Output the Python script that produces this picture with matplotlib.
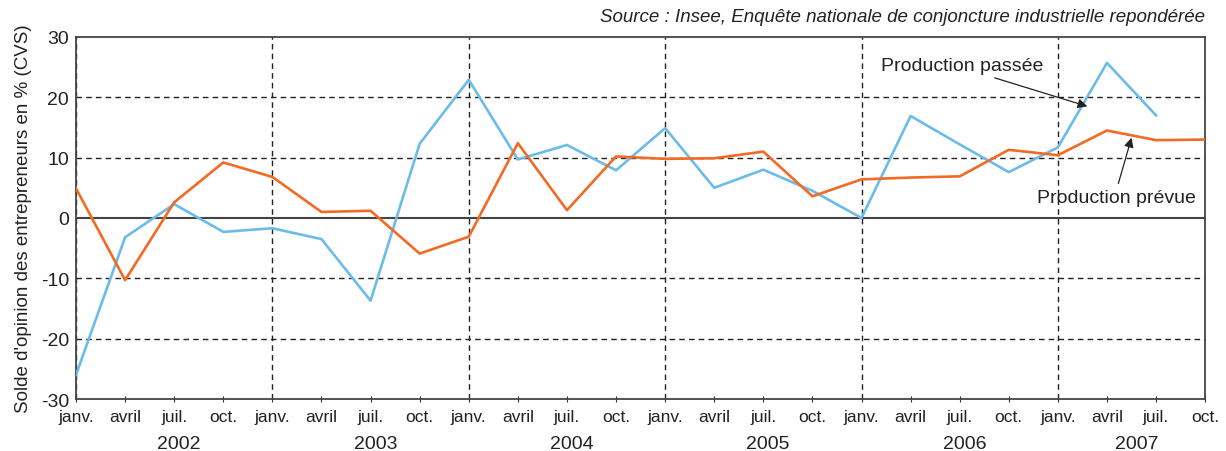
import matplotlib.pyplot as plt

plt.rcParams['font.family'] = ['Liberation Sans', 'DejaVu Sans']
plt.rcParams['axes.unicode_minus'] = False

months = ["janv.", "avril", "juil.", "oct."] * 6
years = ["2002", "2003", "2004", "2005", "2006", "2007"]
year_pos = [2.1, 6.1, 10.1, 14.1, 18.1, 21.6]

# Production passée (janv. 2002 -> juil. 2007)
passee = [-26, -3.2, 2.3, -2.3, -1.7, -3.5, -13.7, 12.3,
          22.9, 9.7, 12.1, 7.9, 14.9, 5.0, 8.0, 4.5,
          0.0, 16.9, 12.2, 7.6, 11.7, 25.7, 17.0]
# Production prévue (janv. 2002 -> oct. 2007)
prevue = [4.9, -10.3, 2.6, 9.2, 6.8, 1.0, 1.2, -5.9,
          -3.1, 12.4, 1.3, 10.2, 9.8, 9.9, 11.0, 3.6,
          6.4, 6.7, 6.9, 11.3, 10.4, 14.5, 12.9, 13.0]

fig = plt.figure(figsize=(12.26, 4.52), dpi=100)
ax = fig.add_axes([0.062, 0.115, 0.921, 0.801])

ax.plot(range(len(passee)), passee, color='#6cbbe8', lw=1.9, zorder=3)
ax.plot(range(len(prevue)), prevue, color='#f26a24', lw=1.9, zorder=3)

ax.set_xlim(0, 23)
ax.set_ylim(-30, 30)
ax.set_yticks(range(-30, 31, 10))
ax.set_xticks(range(24))
ax.set_xticklabels(months, fontsize=12.5)
ax.tick_params(axis='y', length=0, labelsize=14, pad=5, labelcolor='#222222')
ax.tick_params(axis='x', length=4, direction='inout', pad=5, color='#333333',
               labelcolor='#222222')

for v in [-20, -10, 10, 20]:
    ax.axhline(v, color='#222222', lw=1, ls=(0, (4, 3)), zorder=1)
ax.axhline(0, color='#444444', lw=1.5, zorder=2)
for x in range(0, 24, 4):
    ax.axvline(x, color='#222222', lw=1, ls=(0, (4, 3)), zorder=1)

for s in ax.spines.values():
    s.set_color('#444444')
    s.set_linewidth(1.3)

for p, y in zip(year_pos, years):
    ax.text(p, -0.122, y, transform=ax.get_xaxis_transform(), ha='center',
            va='center', fontsize=14, color='#222222')

ax.set_ylabel("Solde d'opinion des entrepreneurs en % (CVS)", fontsize=13.5,
              labelpad=6, color='#222222')

fig.text(0.983, 0.962, "Source : Insee, Enquête nationale de conjoncture industrielle repondérée",
         ha='right', va='center', fontsize=13.5, style='italic', color='#222222')

ax.annotate("Production passée", xy=(20.6, 18.5), xytext=(18.05, 25.3),
            fontsize=14, ha='center', va='center', color='#222222',
            arrowprops=dict(arrowstyle='-|>', color='#222222', lw=0.9,
                            shrinkA=3, shrinkB=0, relpos=(0.62, 0.0)))
ax.annotate("Production prévue", xy=(21.5, 13.3), xytext=(21.2, 3.4),
            fontsize=14, ha='center', va='center', color='#222222',
            arrowprops=dict(arrowstyle='-|>', color='#222222', lw=0.9,
                            shrinkA=2, shrinkB=0, relpos=(0.5, 1.0)))

fig.savefig("out.png", dpi=100)
